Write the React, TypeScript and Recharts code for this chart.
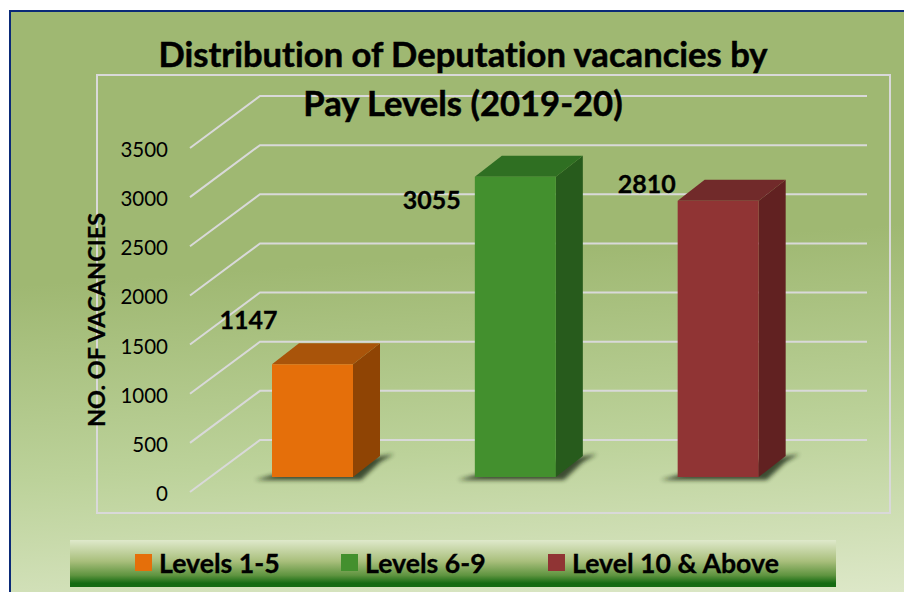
import React from "react";
import { ComposedChart, Bar, XAxis, YAxis, CartesianGrid, Legend, LabelList } from "recharts";

const categories = ["Levels 1-5", "Levels 6-9", "Level 10 & Above"];
const vacancies = [1147, 3055, 2810];
const yTicks = [0, 500, 1000, 1500, 2000, 2500, 3000, 3500];
const frontColors = ["#e56f0a", "#43902e", "#903434"];
const sideColors = ["#8f4404", "#275b1c", "#612121"];
const topColors = ["#a9540a", "#2f6f22", "#712a2a"];
const labelDx = [-64, -83.5, -71.5];
const labelDy = [-45, 22, -18];
const legendLeft = [65, 271, 478];
const titleLines = ["Distribution of Deputation vacancies by", "Pay Levels (2019-20)"];

const data = categories.map((c, i) => ({ name: c, [c]: vacancies[i] }));

const FONT = "Lato, 'Open Sans', sans-serif";
const DX = 27;
const DY = 21;
const NOLIG = { fontVariantLigatures: "none" } as const;

const bar3D = (i: number) => (p: any) => {
  const { x, y, width: w, height: h } = p;
  if (!h) return null;
  const b = y + h;
  const r = x + w;
  return (
    <g>
      <polygon
        points={`${x - 17},${b + 3} ${x + 8},${b - 4} ${r + DX + 14},${b - DY - 2} ${r + DX},${b - DY + 6} ${r + 8},${b + 3}`}
        fill="#1f2a18"
        opacity={0.8}
        filter="url(#soft)"
      />
      <polygon points={`${r},${y} ${r + DX},${y - DY} ${r + DX},${b - DY} ${r},${b}`} fill={sideColors[i]} />
      <polygon points={`${x},${y} ${x + DX},${y - DY} ${r + DX},${y - DY} ${r},${y}`} fill={topColors[i]} />
      <rect x={x} y={y} width={w} height={h} fill={frontColors[i]} />
    </g>
  );
};

const barLabel = (i: number) => (p: any) => {
  if (p.value == null || !p.height) return null;
  return (
    <text
      x={p.x + p.width / 2 + labelDx[i]}
      y={p.y + labelDy[i]}
      textAnchor="middle"
      dominantBaseline="central"
      fontFamily={FONT}
      fontWeight={700}
      fontSize={25}
      stroke="#000"
      strokeWidth={0.3}
      fill="#000"
    >
      {p.value}
    </text>
  );
};

// Each gridline runs up the side wall, then along the back wall.
const wallLine = (p: any) => {
  const y = p.y1;
  return (
    <polyline
      key={p.key ?? y}
      points={`190,${y + 15} 260,${y - 37} 867,${y - 37}`}
      fill="none"
      stroke="#d9d9d9"
      strokeWidth={2}
    />
  );
};

const Tick = (p: any) => (
  <text x={168} y={p.y + 16} textAnchor="end" dominantBaseline="central" fontFamily={FONT} fontSize={20.5} fill="#000">
    {p.payload.value}
  </text>
);

const LegendBand = (p: any) => (
  <div
    style={{
      position: "absolute",
      left: 70,
      top: 540,
      width: 766,
      height: 47,
      background: "linear-gradient(180deg,#dfe9cb 0%,#a9bf7c 45%,#5f9440 75%,#156b12 92%,#156b12 100%)",
    }}
  >
    {(p.payload || []).map((e: any, i: number) => (
      <div key={e.value} style={{ position: "absolute", left: legendLeft[i], top: -1, height: 47, display: "flex", alignItems: "center", whiteSpace: "nowrap" }}>
        <span style={{ width: 17, height: 17, background: e.color, marginRight: 7, display: "inline-block" }} />
        <span style={{ fontFamily: FONT, fontWeight: 700, fontSize: 26.7, color: "#000", WebkitTextStroke: "0.3px #000", ...NOLIG }}>{e.value}</span>
      </div>
    ))}
  </div>
);

export default function App() {
  return (
    <div style={{ position: "fixed", left: 0, top: 0, width: 904, height: 592, background: "#fff", overflow: "hidden" }}>
      <div
        style={{
          position: "absolute",
          left: 9,
          top: 10,
          width: 900,
          height: 590,
          borderLeft: "2px solid #0a2a78",
          borderTop: "2px solid #0a2a78",
          background: "linear-gradient(176deg,#9fb872 0%,#9fb872 42%,#bcd29a 72%,#dfe9cb 100%)",
        }}
      />
      <div style={{ position: "absolute", left: 96, top: 74, width: 795, height: 440, border: "2px solid #d9d9d9", boxSizing: "border-box" }} />
      <ComposedChart
        width={904}
        height={592}
        data={data}
        margin={{ top: 133, bottom: 115, left: 151, right: 84.5 }}
        style={{ position: "absolute", left: 0, top: 0 }}
      >
        <defs>
          <filter id="soft" x="-20%" y="-50%" width="140%" height="200%">
            <feGaussianBlur stdDeviation="2" />
          </filter>
        </defs>
        <CartesianGrid horizontal={wallLine} vertical={false} />
        <XAxis dataKey="name" hide />
        <YAxis
          domain={[0, 3500]}
          ticks={yTicks}
          width={60}
          axisLine={false}
          tickLine={false}
          tick={Tick}
          interval={0}
          label={{
            value: "NO. OF VACANCIES",
            angle: -90,
            position: "left",
            dx: -49,
            dy: 15,
            style: { fontFamily: FONT, fontWeight: 700, fontSize: 23.5, fill: "#000", stroke: "#000", strokeWidth: 0.3, textAnchor: "middle", ...NOLIG },
          }}
        />
        {categories.map((c, i) => (
          <Bar key={c} dataKey={c} name={c} stackId="a" barSize={81} fill={frontColors[i]} shape={bar3D(i)} isAnimationActive={false}>
            <LabelList dataKey={c} content={barLabel(i)} />
          </Bar>
        ))}
        <Legend itemSorter={null} content={LegendBand} wrapperStyle={{ position: "absolute", left: 0, top: 0, width: 0, height: 0 }} />
        {titleLines.map((t, i) => (
          <text key={t} x={463} y={67 + i * 49} textAnchor="middle" fontFamily={FONT} fontWeight={700} fontSize={34.6} stroke="#000" strokeWidth={0.5} fill="#000" style={NOLIG}>
            {t}
          </text>
        ))}
      </ComposedChart>
    </div>
  );
}
